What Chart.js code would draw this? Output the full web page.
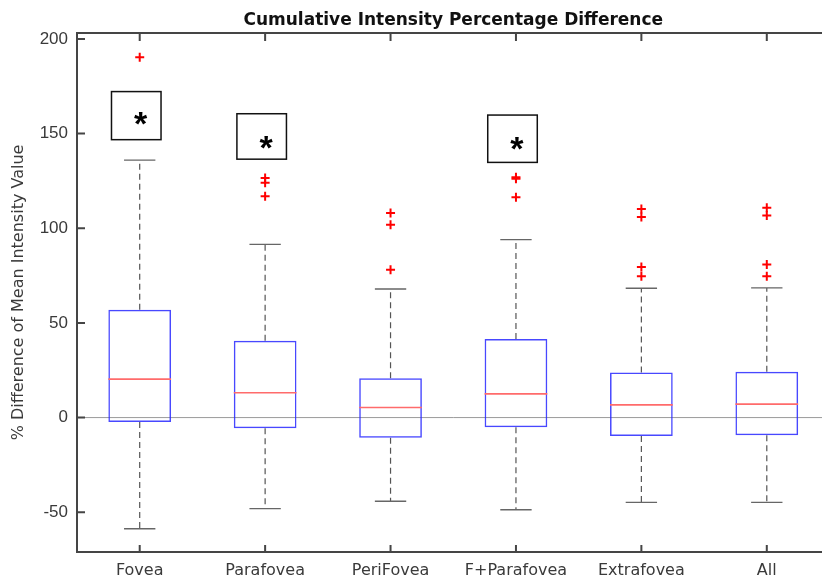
<!DOCTYPE html>
<html>
<head>
<meta charset="utf-8">
<script src="https://cdn.jsdelivr.net/npm/chart.js@4/dist/chart.umd.min.js"></script>
<style>
  html, body { margin: 0; padding: 0; background: #fff; overflow: hidden; }
  #wrap { width: 836px; height: 576px; }
</style>
</head>
<body>
<div id="wrap"><canvas id="boxChart" width="836" height="576"></canvas></div>
<script>
// data
const categories = ['Fovea', 'Parafovea', 'PeriFovea', 'F+Parafovea', 'Extrafovea', 'All'];
const upperWhisker = [136, 91.5, 67.9, 94, 68.3, 68.5];
const q3 = [57, 40.6, 20.8, 41.5, 23.8, 24.2];
const medians = [20.3, 13.1, 5.3, 12.5, 6.7, 7.1];
const q1 = [-2.3, -5.6, -10.7, -5.1, -9.7, -9.3];
const lowerWhisker = [-58.7, -48.1, -44.2, -48.7, -44.8, -44.8];
const outliers = [
  [190.3],
  [126.6, 124, 116.9],
  [108.1, 101.9, 78.1],
  [126.9, 126.2, 116.4],
  [110.2, 106, 79.6, 74.6],
  [110.8, 106.7, 80.8, 74.6]
];
const yTicks = [-50, 0, 50, 100, 150, 200];

// significance boxes: category index, top / bottom value, star value
const sigCats = [0, 1, 3];
const sigTop = [172.2, 160.5, 159.8];
const sigBottom = [146.8, 136.5, 134.8];
const sigStar = [158, 145.5, 144.7];

const outlierPoints = [];
outliers.forEach((list, i) => {
  list.forEach(v => outlierPoints.push({ x: categories[i], y: v }));
});

const axisColor = '#454545';
const textColor = '#3a3a3a';

const boxPlugin = {
  id: 'boxExtras',
  beforeDatasetsDraw(chart) {
    const ctx = chart.ctx;
    const x = chart.scales.x, y = chart.scales.y;
    const area = chart.chartArea;
    const step = x.getPixelForValue(1) - x.getPixelForValue(0);
    ctx.save();
    // zero line
    ctx.strokeStyle = '#9a9a9a';
    ctx.lineWidth = 1;
    ctx.beginPath();
    ctx.moveTo(area.left, y.getPixelForValue(0));
    ctx.lineTo(area.right, y.getPixelForValue(0));
    ctx.stroke();
    // whiskers
    categories.forEach((c, i) => {
      const cx = x.getPixelForValue(i);
      ctx.strokeStyle = '#555';
      ctx.lineWidth = 1.2;
      ctx.setLineDash([6, 4]);
      ctx.beginPath();
      ctx.moveTo(cx, y.getPixelForValue(q3[i]));
      ctx.lineTo(cx, y.getPixelForValue(upperWhisker[i]));
      ctx.moveTo(cx, y.getPixelForValue(q1[i]));
      ctx.lineTo(cx, y.getPixelForValue(lowerWhisker[i]));
      ctx.stroke();
      ctx.setLineDash([]);
      ctx.strokeStyle = '#666';
      ctx.lineWidth = 1.4;
      const hw = step * 0.125;
      ctx.beginPath();
      ctx.moveTo(cx - hw, y.getPixelForValue(upperWhisker[i]));
      ctx.lineTo(cx + hw, y.getPixelForValue(upperWhisker[i]));
      ctx.moveTo(cx - hw, y.getPixelForValue(lowerWhisker[i]));
      ctx.lineTo(cx + hw, y.getPixelForValue(lowerWhisker[i]));
      ctx.stroke();
    });
    ctx.restore();
  },
  afterDatasetsDraw(chart) {
    const ctx = chart.ctx;
    const x = chart.scales.x, y = chart.scales.y;
    const area = chart.chartArea;
    const step = x.getPixelForValue(1) - x.getPixelForValue(0);
    ctx.save();
    // medians
    ctx.strokeStyle = '#ff6b6b';
    ctx.lineWidth = 1.6;
    categories.forEach((c, i) => {
      const cx = x.getPixelForValue(i);
      const my = y.getPixelForValue(medians[i]);
      ctx.beginPath();
      ctx.moveTo(cx - step * 0.25, my);
      ctx.lineTo(cx + step * 0.25, my);
      ctx.stroke();
    });
    // significance boxes
    sigCats.forEach((ci, k) => {
      const cx = x.getPixelForValue(ci);
      const top = y.getPixelForValue(sigTop[k]);
      const bot = y.getPixelForValue(sigBottom[k]);
      const l = cx - step * 0.225, r = cx + step * 0.17;
      ctx.strokeStyle = '#111';
      ctx.lineWidth = 1.5;
      ctx.strokeRect(l, top, r - l, bot - top);
      ctx.fillStyle = '#000';
      ctx.font = 'bold 34px "Liberation Sans", Arial, sans-serif';
      ctx.textAlign = 'center';
      ctx.textBaseline = 'middle';
      ctx.fillText('*', cx + 1, y.getPixelForValue(sigStar[k]) + 7);
    });
    // top border and inward ticks
    ctx.strokeStyle = axisColor;
    ctx.lineWidth = 2;
    ctx.beginPath();
    ctx.moveTo(area.left - 1, area.top);
    ctx.lineTo(area.right, area.top);
    ctx.moveTo(area.right, area.top);
    ctx.lineTo(area.right, area.bottom);
    categories.forEach((c, i) => {
      const cx = x.getPixelForValue(i);
      ctx.moveTo(cx, area.top);
      ctx.lineTo(cx, area.top + 8);
      ctx.moveTo(cx, area.bottom);
      ctx.lineTo(cx, area.bottom - 7);
    });
    yTicks.forEach(v => {
      const ty = y.getPixelForValue(v);
      ctx.moveTo(area.left, ty);
      ctx.lineTo(area.left + 8, ty);
    });
    ctx.stroke();
    ctx.restore();
  }
};

new Chart(document.getElementById('boxChart'), {
  type: 'bar',
  data: {
    labels: categories,
    datasets: [
      {
        label: 'IQR',
        data: categories.map((c, i) => [q1[i], q3[i]]),
        backgroundColor: 'rgba(0,0,0,0)',
        borderColor: 'rgba(40,40,255,0.85)',
        borderWidth: 1.5,
        borderSkipped: false,
        barPercentage: 0.5,
        categoryPercentage: 1.0
      },
      {
        type: 'line',
        label: 'Outliers',
        data: outlierPoints,
        showLine: false,
        pointStyle: 'cross',
        pointRadius: 4.5,
        pointBorderWidth: 2,
        pointBorderColor: '#ff0000',
        pointBackgroundColor: '#ff0000'
      }
    ]
  },
  options: {
    responsive: false,
    animation: false,
    layout: { padding: { left: 0, right: 4, top: 0, bottom: 0 } },
    plugins: {
      legend: { display: false },
      tooltip: { enabled: false },
      title: {
        display: true,
        fullSize: false,
        text: 'Cumulative Intensity Percentage Difference',
        color: '#111',
        font: { family: '"DejaVu Sans", sans-serif', size: 17, weight: 'bold' },
        padding: { top: 10, bottom: 2.5 }
      }
    },
    scales: {
      x: {
        offset: true,
        grid: { display: true, drawOnChartArea: false, drawTicks: false },
        border: { display: true, color: axisColor, width: 2 },
        ticks: {
          color: textColor,
          padding: 9,
          maxRotation: 0,
          font: { family: '"DejaVu Sans", sans-serif', size: 16 }
        },
        afterFit(scale) { scale.height = 24; }
      },
      y: {
        min: -71,
        max: 203.2,
        grid: { display: true, drawOnChartArea: false, drawTicks: false },
        border: { display: true, color: axisColor, width: 2 },
        afterBuildTicks(scale) { scale.ticks = yTicks.map(v => ({ value: v })); },
        ticks: {
          color: textColor,
          padding: 9,
          font: { family: '"Liberation Sans", Arial, sans-serif', size: 17 }
        },
        title: {
          display: true,
          text: '% Difference of Mean Intensity Value',
          color: textColor,
          padding: { top: 9, bottom: 0 },
          font: { family: '"DejaVu Sans", sans-serif', size: 16 }
        },
        afterFit(scale) { scale.width = 77; }
      }
    }
  },
  plugins: [boxPlugin]
});
</script>
</body>
</html>
